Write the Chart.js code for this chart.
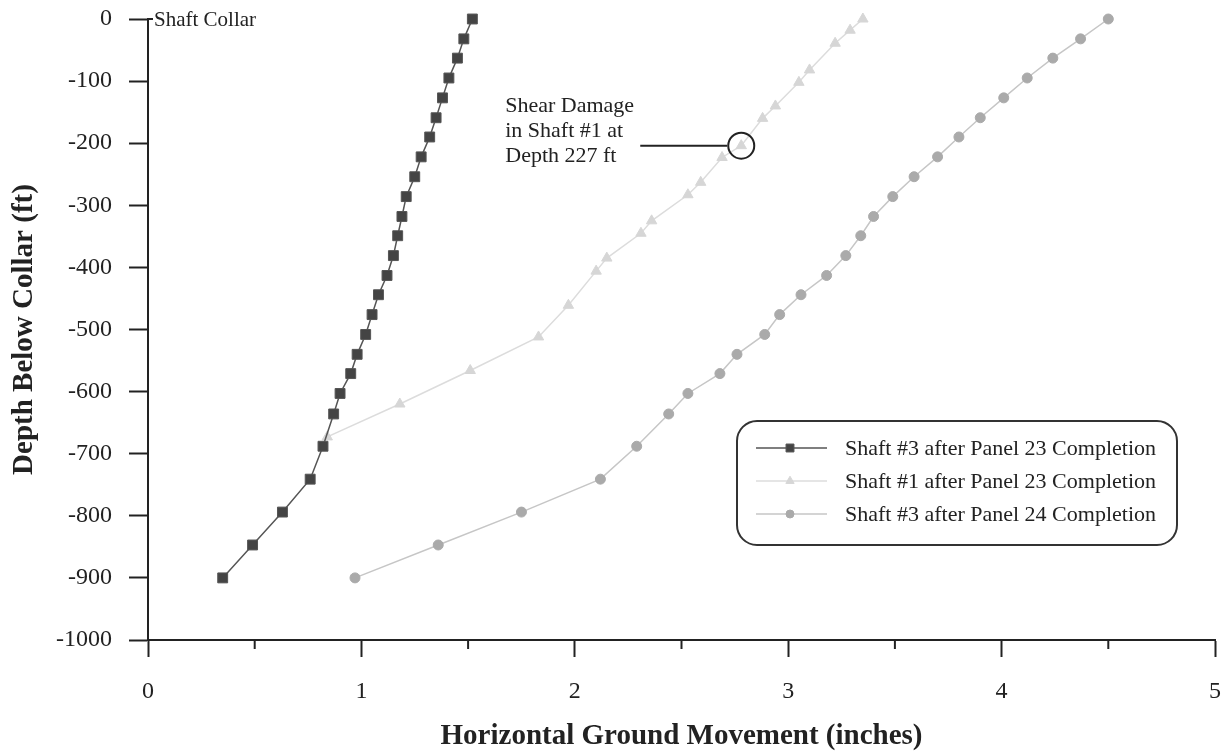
<!DOCTYPE html>
<html>
<head>
<meta charset="utf-8">
<script src="https://cdn.jsdelivr.net/npm/chart.js@4/dist/chart.umd.min.js"></script>
<style>
  html, body { margin: 0; padding: 0; background: #fff; }
  #wrap { width: 1224px; height: 751px; }
</style>
</head>
<body>
<div id="wrap"><canvas id="myChart" width="1224" height="751"></canvas></div>
<script>
// depth below collar (ft) for shaft #3 readings
var depth3 = [0, -32, -63, -95, -127, -159, -190, -222, -254, -286, -318, -349, -381, -413, -444, -476, -508, -540, -571, -603, -636, -688, -741, -794, -847, -900];
// horizontal movement (inches)
var shaft3Panel23 = [1.52, 1.48, 1.45, 1.41, 1.38, 1.35, 1.32, 1.28, 1.25, 1.21, 1.19, 1.17, 1.15, 1.12, 1.08, 1.05, 1.02, 0.98, 0.95, 0.90, 0.87, 0.82, 0.76, 0.63, 0.49, 0.35];
var shaft3Panel24 = [4.50, 4.37, 4.24, 4.12, 4.01, 3.90, 3.80, 3.70, 3.59, 3.49, 3.40, 3.34, 3.27, 3.18, 3.06, 2.96, 2.89, 2.76, 2.68, 2.53, 2.44, 2.29, 2.12, 1.75, 1.36, 0.97];

var depth1 = [0, -18, -39, -82, -102, -140, -160, -204, -223, -263, -283, -325, -345, -385, -406, -461, -512, -566, -620, -673];
var shaft1Panel23 = [3.35, 3.29, 3.22, 3.10, 3.05, 2.94, 2.88, 2.78, 2.69, 2.59, 2.53, 2.36, 2.31, 2.15, 2.10, 1.97, 1.83, 1.51, 1.18, 0.84];

var seriesLabels = ['Shaft #3 after Panel 23 Completion', 'Shaft #1 after Panel 23 Completion', 'Shaft #3 after Panel 24 Completion'];
var xTicks = [0, 1, 2, 3, 4, 5];
var yTicks = [0, -100, -200, -300, -400, -500, -600, -700, -800, -900, -1000];
var damageIndex = 7; // point of shaft #1 that is circled
var damageText = ['Shear Damage', 'in Shaft #1 at', 'Depth 227 ft'];

var serif = "'Liberation Serif', 'Times New Roman', serif";
var ink = '#222';

function points(xs, ys) {
    var out = [];
    for (var i = 0; i < xs.length; i++) {
        out.push({ x: xs[i], y: ys[i] });
    }
    return out;
}

// stop the scales from pushing the plot area in for their end labels
function noEdgePadding(scale) {
    scale.paddingTop = 0;
    scale.paddingBottom = 0;
    scale.paddingLeft = 0;
    scale.paddingRight = 0;
}

// half-inch minor ticks, custom legend, notes
var extras = {
    id: 'extras',
    afterDraw: function (chart) {
        var ctx = chart.ctx;
        var xs = chart.scales.x, ys = chart.scales.y;
        var area = chart.chartArea;
        ctx.save();

        // minor ticks
        ctx.strokeStyle = ink;
        ctx.lineWidth = 2;
        for (var v = xTicks[0] + 0.5; v < xTicks[xTicks.length - 1]; v += 1) {
            var px = xs.getPixelForValue(v);
            ctx.beginPath();
            ctx.moveTo(px, area.bottom);
            ctx.lineTo(px, area.bottom + 9);
            ctx.stroke();
        }

        // shaft collar label at depth 0
        var y0 = ys.getPixelForValue(0);
        ctx.beginPath();
        ctx.moveTo(area.left, y0);
        ctx.lineTo(area.left + 5, y0);
        ctx.stroke();
        ctx.fillStyle = ink;
        ctx.font = '21px ' + serif;
        ctx.textBaseline = 'middle';
        ctx.textAlign = 'left';
        ctx.fillText('Shaft Collar', area.left + 6, y0 + 1);

        // damage note
        var cx = xs.getPixelForValue(shaft1Panel23[damageIndex]);
        var cy = ys.getPixelForValue(depth1[damageIndex]);
        ctx.beginPath();
        ctx.arc(cx, cy, 13, 0, Math.PI * 2);
        ctx.stroke();
        ctx.beginPath();
        ctx.moveTo(cx - 101, cy);
        ctx.lineTo(cx - 14, cy);
        ctx.stroke();
        ctx.font = '22px ' + serif;
        for (var i = 0; i < damageText.length; i++) {
            ctx.fillText(damageText[i], cx - 236, cy - 39 + i * 25);
        }

        // legend box
        var bx = 737, by = 421, bw = 440, bh = 124;
        ctx.beginPath();
        ctx.roundRect(bx, by, bw, bh, 20);
        ctx.lineWidth = 2;
        ctx.strokeStyle = '#333';
        ctx.stroke();
        var sets = chart.data.datasets;
        for (var k = 0; k < sets.length; k++) {
            var d = sets[k];
            var ry = by + 27 + k * 33;
            ctx.beginPath();
            ctx.strokeStyle = d.borderColor;
            ctx.lineWidth = d.borderWidth;
            ctx.moveTo(bx + 19, ry);
            ctx.lineTo(bx + 90, ry);
            ctx.stroke();
            ctx.fillStyle = d.pointBackgroundColor;
            ctx.strokeStyle = d.pointBorderColor;
            ctx.lineWidth = 1;
            Chart.helpers.drawPoint(ctx, {
                pointStyle: d.pointStyle,
                radius: d.pointRadius * 0.8,
                rotation: 0,
                borderWidth: 1
            }, bx + 53, ry);
            ctx.fillStyle = ink;
            ctx.font = '22px ' + serif;
            ctx.fillText(d.label, bx + 108, ry + 1);
        }
        ctx.restore();
    }
};

var ctx = document.getElementById('myChart').getContext('2d');
var myChart = new Chart(ctx, {
    type: 'scatter',
    data: {
        datasets: [{
            label: seriesLabels[0],
            data: points(shaft3Panel23, depth3),
            showLine: true,
            borderColor: '#555',
            borderWidth: 1.5,
            pointStyle: 'rect',
            pointRadius: 7,
            pointBackgroundColor: '#444',
            pointBorderColor: '#555',
            pointBorderWidth: 1,
            clip: false
        },
        {
            label: seriesLabels[1],
            data: points(shaft1Panel23, depth1),
            showLine: true,
            borderColor: '#dcdcdc',
            borderWidth: 1.5,
            pointStyle: 'triangle',
            pointRadius: 6,
            pointBackgroundColor: '#d6d6d6',
            pointBorderColor: '#d6d6d6',
            pointBorderWidth: 1,
            clip: false
        },
        {
            label: seriesLabels[2],
            data: points(shaft3Panel24, depth3),
            showLine: true,
            borderColor: '#c6c6c6',
            borderWidth: 1.5,
            pointStyle: 'circle',
            pointRadius: 5,
            pointBackgroundColor: '#aaa',
            pointBorderColor: '#aaa',
            pointBorderWidth: 1,
            clip: false
        }]
    },
    options: {
        responsive: false,
        animation: false,
        layout: { padding: { top: 19, right: 9, left: 0, bottom: 0 } },
        plugins: {
            legend: { display: false },
            tooltip: { enabled: false }
        },
        scales: {
            x: {
                type: 'linear',
                min: xTicks[0],
                max: xTicks[xTicks.length - 1],
                afterBuildTicks: function (scale) {
                    scale.ticks = xTicks.map(function (v) { return { value: v }; });
                },
                afterFit: function (scale) { scale.height = 111; noEdgePadding(scale); },
                grid: { drawOnChartArea: false, tickLength: 17, tickColor: ink, tickWidth: 2 },
                border: { color: ink, width: 2 },
                ticks: {
                    color: ink,
                    font: { family: serif, size: 24 },
                    padding: 20,
                    maxRotation: 0,
                    callback: function (v) { return String(v); }
                },
                title: {
                    display: true,
                    text: 'Horizontal Ground Movement (inches)',
                    color: ink,
                    font: { family: serif, size: 29, weight: 'bold', lineHeight: 1 },
                    padding: { top: 0, bottom: 0 }
                }
            },
            y: {
                type: 'linear',
                min: yTicks[yTicks.length - 1],
                max: yTicks[0],
                afterBuildTicks: function (scale) {
                    scale.ticks = yTicks.map(function (v) { return { value: v }; });
                },
                afterFit: function (scale) { scale.width = 148; noEdgePadding(scale); },
                grid: { drawOnChartArea: false, tickLength: 19, tickColor: ink, tickWidth: 2 },
                border: { color: ink, width: 2 },
                ticks: {
                    color: ink,
                    font: { family: serif, size: 24 },
                    padding: 17,
                    callback: function (v) { return String(v); }
                },
                title: {
                    display: true,
                    text: 'Depth Below Collar (ft)',
                    color: ink,
                    font: { family: serif, size: 29, weight: 'bold', lineHeight: 1 },
                    padding: { top: 10, bottom: 0 }
                }
            }
        }
    },
    plugins: [extras]
});
</script>
</body>
</html>
